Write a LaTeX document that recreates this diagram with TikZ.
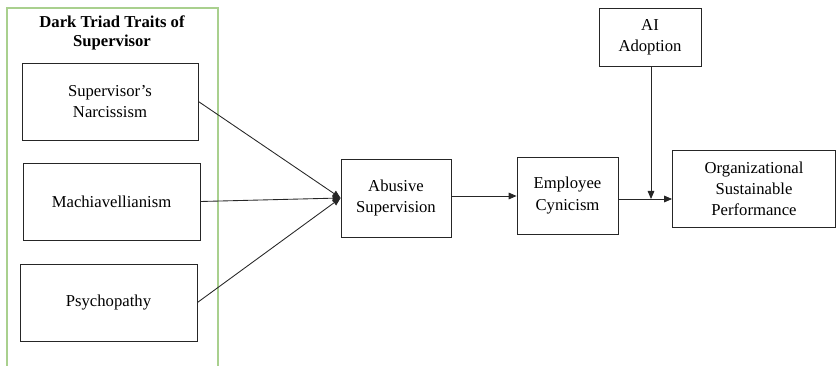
\documentclass[tikz,border=0pt]{standalone}
\usepackage{fontspec}
\setmainfont{Liberation Serif}
\usetikzlibrary{arrows.meta}
\definecolor{framegreen}{RGB}{169,208,142}
\tikzset{
  box/.style={draw=black!85, line width=0.65pt, align=center, inner sep=0pt, font=\fontsize{12.5}{15.8}\selectfont},
  conn/.style={draw=black!85, line width=0.65pt, -{Triangle[length=6pt,width=5pt]}},
  title/.style={align=center, font=\fontsize{12.5}{14.5}\selectfont\bfseries}
}
\begin{document}
\begin{tikzpicture}[x=0.75pt,y=-0.75pt]
\useasboundingbox (0,0) rectangle (837,366);
\draw[framegreen, line width=0.8pt] (7,366) -- (7,8) -- (218,8) -- (218,366);
\node[title] (ttl) at (112,33) {Dark Triad Traits of\\Supervisor};
\node[box, minimum width=176*0.75pt, minimum height=77*0.75pt] (nar) at (110,101.5) {Supervisor's\\Narcissism};
\node[box, minimum width=177*0.75pt, minimum height=77*0.75pt] (mac) at (111.5,201.5) {Machiavellianism};
\node[box, minimum width=177*0.75pt, minimum height=77*0.75pt] (psy) at (108.5,302.5) {Psychopathy};
\node[box, minimum width=110*0.75pt, minimum height=78*0.75pt] (abs) at (396,198) {Abusive\\Supervision};
\node[box, minimum width=101*0.75pt, minimum height=77*0.75pt] (emp) at (567.5,195.5) {Employee\\Cynicism};
\node[box, minimum width=102*0.75pt, minimum height=58*0.75pt] (ai) at (650,37) {AI\\Adoption};
\node[box, minimum width=163*0.75pt, minimum height=77*0.75pt] (osp) at (754,188.5) {Organizational\\Sustainable\\Performance};
\coordinate (j) at (651,199);
\coordinate (h) at (0,196);
\draw[conn] (nar.east) -- (abs.west);
\draw[conn] (mac.east) -- (abs.west);
\draw[conn] (psy.east) -- (abs.west);
\draw[conn] (abs.east |- h) -- (emp.west |- h);
\draw[conn] (emp.east |- j) -- (osp.west |- j);
\draw[conn] (ai.south -| j) -- (j);
\end{tikzpicture}
\end{document}
